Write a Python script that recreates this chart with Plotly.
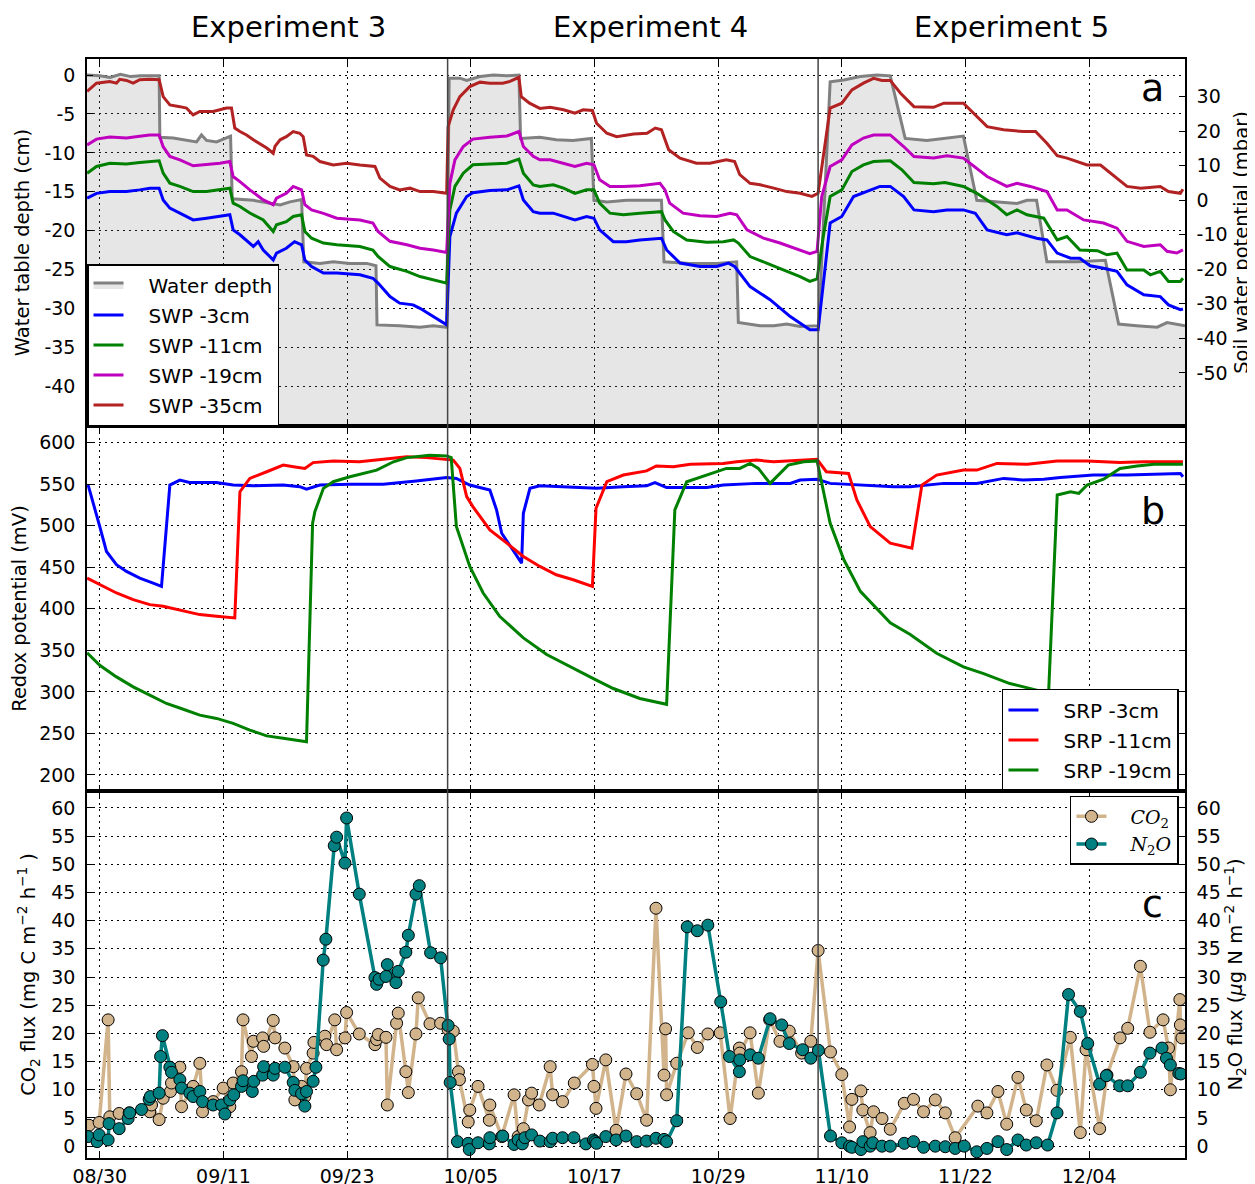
import pandas as pd
import plotly.graph_objects as go
from plotly.subplots import make_subplots

BASE = pd.Timestamp("2015-08-30")
X_START, X_END = -1.24, 105.3          # days relative to 08/30
EXP_BOUNDS = [33.75, 69.7]              # experiment changes (days)
TICK_DAYS = [0, 12, 24, 36, 48, 60, 72, 84, 96]

# ---------------- panel a : water table depth (cm) ----------------
water_depth = [(-1.24, 0.0), (0.0, -0.1), (1.0, -0.3), (2.0, 0.1), (3.0, -0.2), (4.0, -0.1), (5.76, -0.1),
               (5.83, -8.0), (7.12, -8.1), (8.41, -8.4), (9.39, -8.6), (9.87, -7.7), (10.36, -8.4), (11.33, -8.6),
               (12.3, -8.0), (12.69, -7.85), (12.85, -15.9), (14.9, -16.1), (17.5, -16.7), (18.45, -16.3),
               (19.58, -16.0), (19.8, -24.0), (21.36, -24.2), (22.65, -24.0), (24.27, -24.2), (25.9, -24.2),
               (26.8, -24.5), (26.9, -32.1), (29.1, -32.2), (31.07, -32.4), (32.36, -32.2), (33.66, -32.4),
               (33.9, -0.4), (34.94, -0.4), (35.6, -0.7), (36.9, -0.2), (38.2, 0.0), (39.5, -0.1), (40.67, 0.0),
               (40.83, -8.15), (42.7, -8.0), (44.3, -8.3), (45.9, -8.4), (47.7, -8.15), (47.95, -16.1),
               (49.2, -16.3), (51.1, -16.1), (54.5, -16.1), (54.75, -24.0), (57.3, -24.2), (59.86, -24.2),
               (61.8, -24.0), (61.96, -31.8), (64.07, -32.2), (65.4, -32.2), (66.66, -32.0), (67.95, -32.3),
               (69.74, -32.2), (70.87, -0.86), (72.2, -0.64), (73.8, -0.2), (75.4, 0.0), (76.7, -0.1),
               (78.15, -8.15), (80.26, -8.4), (81.9, -8.15), (83.8, -7.85), (85.1, -16.1), (87.05, -16.3),
               (89.0, -16.5), (89.97, -16.1), (90.9, -16.1), (91.9, -24.0), (94.8, -24.0), (97.57, -23.8),
               (98.86, -32.0), (100.6, -32.2), (102.6, -32.4), (103.56, -31.8), (105.3, -32.2)]

# soil water potential (mbar)
swp_3cm = [(-1.23, 0.6), (-0.32, 2.0), (0.97, 2.5), (2.59, 2.5), (3.88, 3.0), (4.85, 3.5), (5.76, 3.5), (6.15, 0.1),
           (6.8, -2.3), (7.77, -3.75), (9.06, -5.7), (10.36, -5.2), (11.65, -4.7), (12.62, -4.2), (12.94, -8.6),
           (13.6, -10.0), (14.9, -13.4), (15.37, -12.0), (15.86, -14.4), (16.83, -17.3), (17.15, -15.3),
           (18.1, -13.9), (18.9, -12.0), (19.58, -12.9), (19.9, -17.3), (20.55, -19.2), (21.7, -21.1),
           (23.0, -21.1), (25.24, -21.6), (26.5, -22.6), (27.0, -24.0), (28.16, -27.9), (29.1, -29.8),
           (30.4, -30.3), (31.07, -31.3), (32.36, -33.7), (33.66, -36.1), (33.97, -10.5), (34.6, -3.75),
           (35.6, 1.08), (36.2, 2.2), (37.85, 2.8), (39.5, 3.0), (40.67, 4.17), (41.1, 0.1), (42.06, -3.3),
           (42.7, -3.75), (44.0, -3.75), (46.1, -5.7), (47.24, -4.7), (47.95, -5.2), (48.5, -8.6), (49.83, -12.0),
           (51.1, -12.0), (52.4, -11.5), (54.5, -11.0), (55.0, -14.4), (56.3, -18.2), (58.24, -19.2),
           (59.86, -19.2), (61.0, -18.2), (61.6, -19.2), (63.1, -25.0), (65.04, -28.8), (67.0, -33.7),
           (68.9, -37.5), (69.7, -37.5), (70.87, -6.6), (72.0, -4.7), (73.14, 1.08), (74.43, 2.5), (75.7, 4.0),
           (76.7, 4.0), (78.0, 1.08), (79.0, -2.8), (80.9, -3.3), (82.2, -2.8), (83.8, -2.8), (84.95, -3.75),
           (86.1, -8.6), (88.0, -10.0), (89.0, -9.4), (90.9, -11.0), (91.9, -11.5), (92.9, -15.3), (94.2, -16.8),
           (95.1, -16.8), (96.1, -19.0), (97.4, -19.7), (98.7, -20.6), (99.67, -24.5), (101.3, -27.4),
           (102.9, -27.9), (103.7, -30.3), (104.85, -31.7), (105.1, -31.5)]

swp_11cm = [(-1.23, 7.84), (-0.32, 9.77), (0.97, 10.7), (2.59, 10.5), (3.88, 10.9), (4.85, 11.2), (5.76, 11.4),
            (6.15, 7.84), (6.8, 4.94), (7.77, 4.0), (9.06, 2.5), (10.36, 2.5), (11.65, 3.0), (12.62, 3.5),
            (12.94, -0.85), (13.6, -1.8), (14.56, -3.7), (15.86, -5.7), (16.83, -9.05), (17.15, -7.1),
            (18.1, -6.2), (18.77, -4.7), (19.58, -4.2), (19.9, -9.05), (20.55, -11.0), (21.7, -12.4),
            (23.0, -12.9), (25.24, -13.4), (26.5, -14.4), (27.0, -16.3), (28.16, -19.2), (29.8, -20.6),
            (31.07, -22.1), (32.36, -23.0), (33.66, -24.0), (33.97, -2.8), (34.46, 4.0), (35.27, 7.84),
            (36.2, 10.25), (37.85, 10.5), (39.5, 10.7), (40.67, 11.9), (41.1, 7.84), (42.06, 4.45), (42.7, 4.0),
            (44.0, 4.45), (45.0, 3.5), (46.1, 2.0), (47.24, 3.0), (47.95, 3.0), (48.5, -0.85), (49.5, -3.75),
            (50.8, -4.2), (52.4, -3.75), (54.5, -3.3), (54.84, -5.7), (55.65, -9.05), (56.95, -11.5),
            (58.9, -12.2), (60.5, -12.0), (61.5, -11.5), (61.96, -12.4), (63.1, -16.3), (64.7, -18.2),
            (66.66, -20.6), (67.95, -22.1), (68.9, -23.5), (69.6, -22.8), (70.2, -10.5), (70.87, 1.1),
            (72.0, 3.0), (72.98, 8.3), (74.1, 10.25), (75.08, 11.2), (76.7, 11.4), (77.83, 8.8), (79.0, 5.1),
            (80.9, 4.75), (82.0, 5.1), (83.8, 4.0), (85.1, 2.0), (87.05, -1.8), (88.0, -4.2), (89.0, -2.8),
            (89.97, -4.2), (91.6, -5.2), (92.9, -11.5), (93.85, -10.5), (95.1, -14.4), (96.8, -14.6),
            (97.73, -15.8), (98.7, -15.3), (99.67, -20.2), (101.3, -20.2), (101.94, -21.6), (102.9, -20.6),
            (103.7, -23.5), (104.85, -23.5), (105.1, -22.6)]

swp_19cm = [(-1.23, 16.0), (-0.32, 17.7), (0.97, 18.3), (2.59, 18.0), (3.88, 18.5), (4.85, 18.9), (5.76, 18.9),
            (6.15, 15.5), (6.8, 12.7), (7.77, 11.7), (9.06, 9.96), (10.36, 10.25), (11.65, 10.7), (12.62, 11.2),
            (12.94, 6.87), (13.6, 5.4), (14.56, 3.0), (15.86, 0.1), (16.83, -1.3), (17.15, 0.6), (18.1, 2.0),
            (18.77, 4.0), (19.58, 3.0), (19.9, -1.3), (20.55, -2.8), (21.7, -3.8), (23.0, -5.2), (25.24, -5.7),
            (26.5, -6.6), (27.0, -9.05), (28.16, -11.9), (29.8, -12.9), (31.07, -13.9), (32.36, -14.4),
            (33.66, -15.1), (33.97, 4.9), (34.46, 11.7), (35.27, 15.56), (36.2, 17.7), (37.85, 18.26),
            (39.5, 18.6), (40.67, 19.9), (41.1, 15.56), (42.06, 12.7), (42.7, 11.7), (43.7, 11.7), (45.0, 10.7),
            (46.1, 9.8), (47.24, 10.7), (47.95, 10.25), (48.5, 5.9), (49.5, 4.0), (50.8, 4.0), (52.4, 4.17),
            (54.36, 4.9), (54.84, 3.0), (55.3, -0.85), (56.6, -3.75), (58.24, -4.5), (59.86, -4.7),
            (61.16, -3.75), (61.8, -4.2), (62.8, -8.6), (64.4, -11.0), (66.0, -12.4), (67.6, -14.2),
            (68.9, -15.5), (69.6, -14.8), (70.05, 1.08), (70.87, 9.77), (72.0, 11.7), (72.98, 16.04),
            (74.1, 18.0), (75.08, 18.9), (76.7, 18.9), (78.0, 15.56), (79.0, 12.66), (80.9, 12.2), (82.2, 12.9),
            (83.8, 12.2), (84.8, 9.77), (86.1, 6.87), (88.0, 4.0), (89.0, 4.9), (90.3, 4.0), (91.9, 2.5),
            (92.9, -2.8), (93.85, -2.8), (95.47, -5.7), (97.4, -6.6), (98.7, -8.1), (99.67, -11.9),
            (101.3, -13.4), (102.9, -12.9), (103.56, -14.8), (104.5, -15.3), (105.1, -14.4)]

swp_35cm = [(-1.23, 31.5), (-0.32, 33.9), (0.97, 34.4), (1.62, 33.9), (1.94, 35.0), (2.59, 34.7), (3.24, 33.9),
            (3.88, 34.9), (4.85, 35.0), (5.76, 34.9), (6.15, 30.0), (6.8, 27.6), (7.77, 27.1), (8.41, 26.7),
            (9.06, 24.7), (9.71, 25.7), (11.0, 25.7), (11.65, 26.2), (12.3, 26.7), (12.78, 26.7), (13.1, 20.9),
            (13.6, 19.9), (14.24, 18.9), (14.9, 17.5), (16.2, 15.1), (16.83, 13.6), (17.0, 15.6), (17.5, 17.5),
            (18.1, 18.4), (18.77, 19.9), (19.4, 19.4), (19.74, 18.4), (20.06, 13.1), (20.7, 12.7),
            (21.36, 11.2), (22.65, 10.2), (23.95, 10.7), (25.24, 10.2), (26.7, 9.8), (27.18, 6.4), (28.16, 4.0),
            (29.1, 3.0), (30.1, 3.5), (31.07, 2.5), (32.36, 2.5), (33.66, 2.0), (33.8, 21.3), (34.3, 26.2),
            (34.94, 30.0), (35.9, 32.9), (36.9, 34.2), (37.85, 33.9), (39.1, 33.9), (39.8, 34.4), (40.67, 35.6),
            (40.9, 30.0), (41.7, 28.1), (42.7, 26.6), (43.7, 26.9), (45.0, 26.2), (46.1, 25.2), (46.9, 26.2),
            (47.8, 26.0), (48.2, 22.3), (49.2, 19.4), (50.15, 18.4), (51.8, 19.2), (53.1, 19.4), (53.9, 20.9),
            (54.5, 20.4), (55.2, 14.6), (56.3, 12.2), (57.9, 10.7), (59.2, 10.7), (60.8, 11.7), (61.6, 11.2),
            (62.1, 7.4), (63.1, 4.9), (64.07, 4.5), (65.4, 3.5), (66.66, 2.5), (67.95, 2.0), (69.1, 1.1),
            (69.7, 2.0), (70.87, 26.7), (72.0, 28.1), (72.98, 31.96), (74.1, 33.9), (75.08, 35.3), (75.9, 34.7),
            (76.7, 34.7), (77.7, 31.0), (79.0, 27.1), (80.9, 26.9), (81.9, 28.1), (83.8, 28.1), (84.8, 25.2),
            (86.1, 21.3), (87.7, 20.4), (89.6, 19.9), (90.8, 19.9), (91.9, 16.5), (92.9, 12.9), (93.85, 12.2),
            (95.8, 10.2), (97.1, 10.2), (99.67, 4.0), (101.0, 3.5), (102.9, 4.0), (103.7, 2.5), (104.85, 2.0),
            (105.1, 3.2)]

# ---------------- panel b : redox potential (mV) ----------------
srp_3cm = [(-1.13, 549), (-0.32, 515), (0.0, 499), (0.65, 469), (1.62, 453), (2.59, 445), (3.88, 437), (5.18, 431),
           (5.99, 427), (6.8, 549), (7.77, 555), (8.7, 552), (11.3, 552), (12.94, 549), (14.9, 548), (17.8, 549),
           (19.4, 547), (20.06, 544), (21.36, 549), (24.27, 550), (27.5, 550), (30.7, 554), (33.66, 558),
           (34.6, 557), (35.9, 549), (37.85, 543), (38.5, 519), (39.0, 491), (40.77, 459), (40.93, 455),
           (41.1, 515), (41.74, 545), (42.7, 548), (45.94, 546), (48.2, 545), (50.8, 547), (53.06, 548),
           (53.87, 552), (55.0, 546), (58.9, 546), (60.5, 549), (63.74, 551), (67.0, 551), (67.95, 555),
           (69.6, 556), (70.87, 551), (73.8, 549), (77.0, 547), (78.64, 547), (81.9, 551), (85.1, 551),
           (87.7, 557), (89.6, 555), (91.6, 556), (93.2, 558), (96.4, 561), (99.67, 561), (102.9, 562),
           (104.85, 563), (105.1, 559)]

srp_11cm = [(-1.23, 437), (0.0, 429), (1.62, 419), (3.24, 411), (4.85, 405), (6.15, 403), (8.1, 398), (9.7, 393),
            (11.33, 391), (12.94, 389), (13.1, 389), (13.6, 541), (14.56, 557), (16.2, 565), (17.8, 573),
            (18.8, 571), (19.9, 569), (20.7, 576), (22.65, 578), (25.2, 577), (27.5, 580), (29.8, 583),
            (31.7, 582), (33.66, 580), (34.3, 579), (34.94, 569), (35.6, 535), (36.2, 523), (37.85, 495),
            (39.5, 479), (41.1, 463), (42.7, 451), (44.3, 441), (45.94, 435), (47.8, 427), (48.15, 521),
            (49.2, 553), (50.8, 561), (53.06, 566), (54.0, 572), (55.65, 571), (57.3, 574), (60.5, 575),
            (61.8, 577), (63.74, 579), (65.4, 577), (67.0, 578), (69.6, 580), (70.5, 565), (71.8, 564),
            (72.65, 563), (73.46, 531), (74.76, 499), (76.7, 479), (78.8, 473), (79.77, 549), (81.2, 561),
            (83.8, 567), (85.1, 567), (87.05, 575), (90.0, 574), (92.9, 578), (95.8, 578), (99.0, 576),
            (101.3, 577), (105.1, 577)]

srp_19cm = [(-1.23, 347), (0.0, 332), (1.62, 318), (3.24, 306), (4.85, 296), (6.47, 286), (8.1, 279), (9.7, 272),
            (11.33, 268), (12.94, 262), (14.56, 254), (16.2, 247), (17.8, 244), (20.06, 240), (20.65, 503),
            (20.87, 517), (21.7, 545), (22.65, 553), (24.27, 559), (25.9, 564), (26.86, 567), (28.5, 577),
            (29.8, 582), (32.0, 585), (33.66, 584), (34.1, 582), (34.6, 499), (35.9, 451), (37.2, 419),
            (38.8, 391), (41.1, 365), (43.36, 345), (45.94, 328), (47.9, 316), (49.83, 304), (52.4, 292),
            (55.0, 285), (55.8, 519), (56.95, 553), (58.9, 561), (60.8, 569), (62.1, 569), (63.1, 575),
            (63.9, 569), (65.04, 551), (66.8, 573), (68.3, 577), (69.6, 578), (70.87, 503), (72.2, 459),
            (73.8, 421), (76.7, 383), (78.64, 369), (81.2, 346.5), (83.8, 330), (85.76, 322), (88.3, 310),
            (91.58, 300), (92.07, 300), (92.9, 537), (94.2, 541), (95.0, 539), (95.8, 549), (97.4, 556),
            (99.0, 569), (100.65, 572), (102.3, 574), (105.1, 574)]

# ---------------- panel c : gas fluxes ----------------
co2_flux = [(-1.04, 3.7), (-0.06, 4.2), (0.81, 22.4), (0.97, 5.2), (1.88, 5.8), (2.85, 5.9), (4.85, 6.1), (5.02, 7.3),
            (5.76, 4.7), (6.15, 8.5), (6.86, 9.7), (6.96, 11.2), (7.77, 14.0), (7.93, 7.0), (9.06, 10.6),
            (9.71, 14.7), (9.97, 6.1), (11.0, 7.9), (11.97, 10.3), (12.62, 7.0), (12.94, 11.2), (13.75, 13.2),
            (13.9, 22.4), (14.72, 15.9), (14.9, 18.6), (15.8, 19.2), (15.9, 17.7), (16.83, 22.3), (17.0, 19.2),
            (17.96, 17.4), (18.77, 14.1), (18.93, 8.2), (19.58, 10.6), (19.9, 8.8), (20.06, 13.8), (20.7, 16.5),
            (20.78, 18.4), (21.84, 19.5), (22.0, 18.0), (22.8, 22.4), (22.98, 17.1), (23.8, 19.2), (23.95, 23.7),
            (25.18, 19.9), (26.7, 18.0), (26.86, 18.9), (27.02, 19.8), (27.77, 19.3), (27.9, 7.3), (28.8, 21.8),
            (28.96, 23.6), (29.7, 13.2), (29.94, 9.5), (30.68, 19.9), (30.9, 26.3), (32.04, 21.7), (33.07, 21.8),
            (33.8, 20.7), (34.3, 20.4), (34.8, 13.2), (34.9, 11.8), (35.75, 4.3), (35.9, 6.4), (36.7, 10.6),
            (37.8, 4.6), (37.85, 7.3), (39.0, 1.7), (40.2, 9.1), (40.6, 1.7), (41.1, 3.1), (41.6, 8.2),
            (41.9, 9.4), (42.64, 7.3), (43.7, 14.1), (43.94, 9.1), (44.9, 7.9), (46.04, 11.2), (47.8, 14.5),
            (47.95, 10.6), (48.15, 6.7), (49.1, 15.3), (50.1, 2.8), (51.06, 12.8), (52.1, 9.3), (53.06, 4.6),
            (53.97, 42.2), (54.75, 12.6), (54.9, 20.8), (55.0, 9.1), (55.98, 14.7), (57.1, 20.1), (57.98, 17.5),
            (59.0, 19.9), (60.2, 20.1), (61.16, 4.9), (62.06, 17.4), (62.1, 16.5), (63.1, 20.1), (63.9, 9.4),
            (65.0, 22.4), (66.0, 18.6), (66.9, 20.4), (68.1, 16.5), (68.99, 18.6), (69.7, 34.7), (70.9, 16.7),
            (72.0, 12.7), (72.75, 3.4), (72.98, 8.3), (73.85, 9.8), (74.04, 6.4), (74.75, 2.4), (75.08, 6.1),
            (75.9, 4.9), (76.7, 3.0), (78.06, 7.6), (78.96, 8.3), (79.93, 6.1), (81.07, 8.2), (82.04, 5.9),
            (83.0, 1.5), (85.2, 7.1), (86.08, 5.9), (87.15, 9.7), (88.0, 3.9), (89.09, 12.2), (89.9, 6.4),
            (90.87, 4.5), (91.9, 14.4), (92.88, 9.9), (94.17, 19.3), (95.14, 2.4), (95.7, 17.1), (97.02, 3.1),
            (97.73, 12.6), (99.0, 19.2), (99.74, 20.9), (100.97, 31.9), (101.9, 20.2), (103.17, 22.4),
            (103.7, 17.4), (103.88, 10.0), (104.8, 26.0), (104.85, 21.5), (105.0, 19.2)]

n2o_flux = [(-1.13, 1.7), (-0.26, 0.8), (-0.06, 2.0), (0.81, 1.1), (0.9, 4.0), (1.88, 3.1), (2.75, 4.9), (2.9, 5.9),
            (4.05, 6.5), (4.79, 8.3), (4.9, 8.8), (5.76, 9.4), (5.9, 15.9), (6.08, 19.6), (6.8, 14.0), (6.96, 13.1),
            (7.77, 11.8), (7.93, 10.3), (8.74, 9.4), (9.06, 8.8), (9.71, 9.7), (9.97, 7.9), (11.0, 7.3),
            (11.81, 7.3), (12.14, 5.7), (12.62, 8.2), (13.0, 9.1), (13.75, 10.6), (13.9, 11.6), (14.8, 9.7),
            (14.95, 11.5), (15.8, 12.6), (15.9, 14.1), (16.83, 12.6), (17.0, 13.8), (17.96, 14.0), (18.77, 11.3),
            (18.93, 9.9), (19.58, 9.3), (19.9, 7.1), (20.06, 9.7), (20.7, 11.5), (20.97, 14.0), (21.68, 33.0),
            (21.94, 36.7), (22.75, 53.3), (22.98, 54.8), (23.79, 50.2), (23.95, 58.2), (25.18, 44.7),
            (26.7, 29.9), (26.86, 28.7), (27.1, 29.6), (27.77, 30.1), (27.9, 32.2), (28.74, 29.0), (28.96, 31.0),
            (29.7, 34.4), (29.94, 37.4), (30.68, 44.7), (31.0, 46.2), (32.1, 34.3), (33.07, 33.4), (33.8, 21.4),
            (33.9, 19.0), (34.0, 11.3), (34.7, 0.8), (35.75, 0.5), (35.85, -0.6), (36.7, 0.6), (37.8, 0.4),
            (37.85, 1.5), (39.1, 1.8), (40.2, 0.3), (40.6, 1.1), (41.0, 0.4), (41.25, 1.5), (41.9, 2.0),
            (42.7, 0.9), (43.7, 0.8), (43.94, 1.4), (44.9, 1.5), (46.0, 1.5), (47.17, 0.4), (47.9, 1.1),
            (48.05, 0.8), (48.2, 0.5), (49.1, 1.7), (50.1, 1.1), (51.06, 1.8), (52.1, 0.8), (53.06, 0.9),
            (53.97, 1.4), (54.75, 1.2), (55.0, 0.8), (55.98, 4.5), (57.0, 38.9), (57.98, 38.2), (59.0, 39.2),
            (60.25, 25.6), (61.1, 15.9), (62.06, 13.2), (62.1, 15.3), (63.1, 16.2), (63.9, 15.6), (65.04, 22.6),
            (66.17, 21.5), (66.9, 18.2), (68.2, 17.1), (68.99, 15.6), (69.73, 17.0), (70.9, 1.8), (72.0, 0.6),
            (72.75, 0.0), (72.98, -0.2), (73.85, -0.6), (74.04, 0.8), (74.75, 0.0), (75.0, 0.6), (75.9, 0.0),
            (76.7, 0.0), (78.06, 0.5), (78.96, 0.8), (79.93, -0.2), (81.07, 0.0), (82.04, -0.1), (83.0, -0.4),
            (83.88, 0.0), (85.1, -1.0), (86.08, -0.4), (87.15, 0.8), (88.0, -0.6), (89.09, 1.1), (89.9, 0.2),
            (90.87, 0.6), (91.97, 0.2), (92.88, 5.9), (94.0, 26.9), (95.14, 23.9), (95.86, 18.2), (97.02, 11.0),
            (97.67, 12.5), (98.96, 10.7), (99.74, 10.7), (100.97, 13.1), (101.9, 16.5), (103.07, 17.4),
            (103.5, 15.6), (103.88, 14.4), (104.7, 12.9), (104.9, 12.8)]

# axis ranges / ticks
YA_RANGE, YA_TICKS = [-45.1, 2.06], list(range(-40, 1, 5))
YA2_RANGE, YA2_TICKS = [-65.4, 40.9], list(range(-50, 31, 10))
YB_RANGE, YB_TICKS = [180.7, 620], list(range(200, 601, 50))
YC_RANGE, YC_TICKS = [-2.1, 63], list(range(0, 61, 5))


def dates(days):
    return [BASE + pd.Timedelta(days=float(d)) for d in days]


def xs(series):
    return dates([p[0] for p in series])


def ys(series):
    return [p[1] for p in series]


FONT = "DejaVu Sans"
PAD = "\u2002\u2002"   # extra gap between legend symbol and label
fig = make_subplots(rows=3, cols=1, shared_xaxes=True, vertical_spacing=0,
                    specs=[[{"secondary_y": True}], [{}], [{"secondary_y": True}]])

# ---- panel a
fig.add_trace(go.Scatter(x=dates([X_START, X_END]), y=[YA_RANGE[0] - 10] * 2, mode="lines",
                         line=dict(width=0), showlegend=False, hoverinfo="skip"), row=1, col=1)
fig.add_trace(go.Scatter(x=xs(water_depth), y=ys(water_depth), mode="lines", name=PAD + "Water depth",
                         line=dict(color="#808080", width=3), fill="tonexty",
                         fillcolor="rgba(128,128,128,0.2)", legend="legend", legendgroup="wd"), row=1, col=1)
for name, s, c in [("SWP -3cm", swp_3cm, "#0000ff"), ("SWP -11cm", swp_11cm, "#008000"),
                   ("SWP -19cm", swp_19cm, "#bf00bf"), ("SWP -35cm", swp_35cm, "#b22222")]:
    fig.add_trace(go.Scatter(x=xs(s), y=ys(s), mode="lines", name=PAD + name, line=dict(color=c, width=3),
                             legend="legend", legendgroup=name), row=1, col=1, secondary_y=True)

# ---- panel b
for name, s, c in [("SRP -3cm", srp_3cm, "#0000ff"), ("SRP -11cm", srp_11cm, "#ff0000"),
                   ("SRP -19cm", srp_19cm, "#008000")]:
    fig.add_trace(go.Scatter(x=xs(s), y=ys(s), mode="lines", name=PAD + name, line=dict(color=c, width=3),
                             legend="legend2", legendgroup=name), row=2, col=1)

# ---- panel c
fig.add_trace(go.Scatter(x=xs(co2_flux), y=ys(co2_flux), mode="lines+markers",
                         name=PAD + "<i>CO</i><sub>2</sub>", line=dict(color="#d2b48c", width=3.5),
                         marker=dict(size=12, color="#d2b48c", line=dict(color="black", width=1)),
                         legend="legend3", legendgroup="co2"), row=3, col=1)
fig.add_trace(go.Scatter(x=xs(n2o_flux), y=ys(n2o_flux), mode="lines+markers",
                         name=PAD + "<i>N</i><sub>2</sub><i>O</i>", line=dict(color="#008080", width=3.5),
                         marker=dict(size=12, color="#008080", line=dict(color="black", width=1)),
                         legend="legend3", legendgroup="n2o"), row=3, col=1, secondary_y=True)

tickfont = dict(family=FONT, size=19, color="black")
titlefont = dict(family=FONT, size=19.5, color="black")
grid = dict(showgrid=True, gridcolor="black", gridwidth=1, griddash="2px,4px")
line = dict(showline=True, linecolor="black", linewidth=1.5, ticks="inside", ticklen=6, tickwidth=1,
            tickcolor="black", tickfont=tickfont, zeroline=False, automargin=False)

tick_dates = dates(TICK_DAYS)
for i, ax in enumerate(["xaxis", "xaxis2", "xaxis3"]):
    fig.layout[ax].update(domain=[0, 1], range=dates([X_START, X_END]), tickvals=tick_dates,
                          tickformat="%m/%d", showticklabels=(i == 2), mirror="ticks", ticklabelstandoff=0,
                          **grid, **line)

fig.layout.yaxis.update(domain=[0.666, 1.0], range=YA_RANGE, tickvals=YA_TICKS,
                        ticktext=[str(v) for v in YA_TICKS], mirror=True, ticklabelstandoff=6,
                        title=dict(text="Water table depth (cm)", font=titlefont, standoff=10), **grid, **line)
fig.layout.yaxis2.update(range=YA2_RANGE, tickvals=YA2_TICKS, ticktext=[str(v) for v in YA2_TICKS],
                         showgrid=False, ticklabelstandoff=6,
                         title=dict(text="Soil water potential (mbar)", font=titlefont, standoff=8), **line)
fig.layout.yaxis3.update(domain=[0.334, 0.666], range=YB_RANGE, tickvals=YB_TICKS,
                         ticktext=[str(v) for v in YB_TICKS], mirror="ticks", ticklabelstandoff=6,
                         title=dict(text="Redox potential (mV)", font=titlefont, standoff=10), **grid, **line)
fig.layout.yaxis4.update(domain=[0, 0.334], range=YC_RANGE, tickvals=YC_TICKS,
                         ticktext=[str(v) for v in YC_TICKS], mirror=True, ticklabelstandoff=6,
                         title=dict(text="CO<sub>2</sub> flux (mg C m<sup>−2</sup> h<sup>−1</sup> )",
                                    font=titlefont, standoff=10), **grid, **line)
fig.layout.yaxis5.update(range=YC_RANGE, tickvals=YC_TICKS, ticktext=[str(v) for v in YC_TICKS],
                         showgrid=False, ticklabelstandoff=6,
                         title=dict(text="N<sub>2</sub>O flux (<i>μ</i>g N m<sup>−2</sup> h<sup>−1</sup>)",
                                    font=titlefont, standoff=8), **line)

# experiment separators
for d in EXP_BOUNDS:
    fig.add_shape(type="line", xref="x", yref="paper", x0=dates([d])[0], x1=dates([d])[0], y0=0, y1=1,
                  line=dict(color="#444444", width=1.5), layer="above")

# titles and panel letters (positions in paper fractions)
for txt, px in [("Experiment 3", 288), ("Experiment 4", 650), ("Experiment 5", 1011)]:
    fig.add_annotation(text=txt, xref="paper", yref="paper", x=(px - 87) / 1098, y=1.029, showarrow=False,
                       font=dict(family=FONT, size=29, color="black"), xanchor="center", yanchor="middle")
for txt, px, py in [("a", 1152, 88), ("b", 1153, 511), ("c", 1152, 904)]:
    fig.add_annotation(text=txt, xref="paper", yref="paper", x=(px - 87) / 1098, y=(1158 - py) / 1099,
                       showarrow=False, font=dict(family=FONT, size=38, color="black"),
                       xanchor="center", yanchor="middle")

legend_style = dict(bgcolor="white", bordercolor="black", borderwidth=1.5,
                    font=dict(family=FONT, size=20, color="black"), tracegroupgap=1,
                    traceorder="grouped")
fig.update_layout(
    width=1247, height=1176, margin=dict(l=79, r=70, t=51, b=26),
    paper_bgcolor="white", plot_bgcolor="white",
    legend=dict(x=0, y=0.666, xanchor="left", yanchor="bottom", **legend_style),
    legend2=dict(x=0.9945, y=0.334, xanchor="right", yanchor="bottom", **legend_style),
    legend3=dict(x=0.9945, y=0.3294, xanchor="right", yanchor="top",
                 **{**legend_style, "tracegroupgap": 0,
                    "font": dict(family="DejaVu Serif", size=19, color="black")}),
    font=dict(family=FONT, color="black"),
)

fig.write_html("out.html")
